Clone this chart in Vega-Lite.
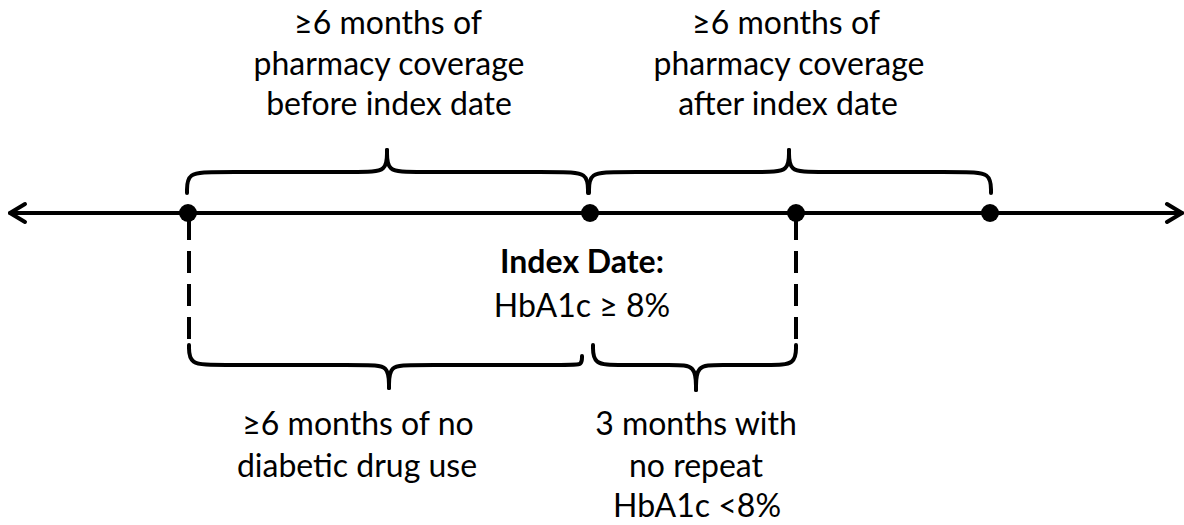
{
  "$schema": "https://vega.github.io/schema/vega-lite/v6.json",
  "width": 1184,
  "height": 525,
  "padding": 0,
  "autosize": {"type": "fit", "contains": "padding"},
  "background": "white",
  "config": {"view": {"stroke": null}},
  "datasets": {
    "braces": [
      {"p": "T1L", "i": 0, "x": 187, "y": 193}, {"p": "T1L", "i": 1, "x": 187, "y": 172}, {"p": "T1L", "i": 2, "x": 215, "y": 172}, {"p": "T1L", "i": 3, "x": 363, "y": 172}, {"p": "T1L", "i": 4, "x": 387, "y": 172}, {"p": "T1L", "i": 5, "x": 387, "y": 150},
      {"p": "T1R", "i": 0, "x": 387, "y": 150}, {"p": "T1R", "i": 1, "x": 387, "y": 172}, {"p": "T1R", "i": 2, "x": 411, "y": 172}, {"p": "T1R", "i": 3, "x": 560, "y": 172}, {"p": "T1R", "i": 4, "x": 588, "y": 172}, {"p": "T1R", "i": 5, "x": 588, "y": 193},
      {"p": "T2L", "i": 0, "x": 589, "y": 193}, {"p": "T2L", "i": 1, "x": 589, "y": 172}, {"p": "T2L", "i": 2, "x": 617, "y": 172}, {"p": "T2L", "i": 3, "x": 765, "y": 172}, {"p": "T2L", "i": 4, "x": 789, "y": 172}, {"p": "T2L", "i": 5, "x": 789, "y": 150},
      {"p": "T2R", "i": 0, "x": 789, "y": 150}, {"p": "T2R", "i": 1, "x": 789, "y": 172}, {"p": "T2R", "i": 2, "x": 813, "y": 172}, {"p": "T2R", "i": 3, "x": 963, "y": 172}, {"p": "T2R", "i": 4, "x": 991, "y": 172}, {"p": "T2R", "i": 5, "x": 991, "y": 193},
      {"p": "B1L", "i": 0, "x": 189, "y": 345}, {"p": "B1L", "i": 1, "x": 189, "y": 365}, {"p": "B1L", "i": 2, "x": 217, "y": 365}, {"p": "B1L", "i": 3, "x": 367, "y": 365}, {"p": "B1L", "i": 4, "x": 389, "y": 365}, {"p": "B1L", "i": 5, "x": 389, "y": 388},
      {"p": "B1R", "i": 0, "x": 389, "y": 388}, {"p": "B1R", "i": 1, "x": 389, "y": 365}, {"p": "B1R", "i": 2, "x": 411, "y": 365}, {"p": "B1R", "i": 3, "x": 572, "y": 365}, {"p": "B1R", "i": 4, "x": 582, "y": 365}, {"p": "B1R", "i": 5, "x": 582, "y": 356},
      {"p": "B2L", "i": 0, "x": 593, "y": 345}, {"p": "B2L", "i": 1, "x": 593, "y": 365}, {"p": "B2L", "i": 2, "x": 619, "y": 365}, {"p": "B2L", "i": 3, "x": 674, "y": 365}, {"p": "B2L", "i": 4, "x": 696, "y": 365}, {"p": "B2L", "i": 5, "x": 696, "y": 390},
      {"p": "B2R", "i": 0, "x": 696, "y": 390}, {"p": "B2R", "i": 1, "x": 696, "y": 365}, {"p": "B2R", "i": 2, "x": 718, "y": 365}, {"p": "B2R", "i": 3, "x": 770, "y": 365}, {"p": "B2R", "i": 4, "x": 796, "y": 365}, {"p": "B2R", "i": 5, "x": 796, "y": 345}
    ],
    "axisline": [
      {"p": "M", "i": 0, "x": 10, "y": 213}, {"p": "M", "i": 1, "x": 1182, "y": 213},
      {"p": "AL", "i": 0, "x": 25, "y": 204}, {"p": "AL", "i": 1, "x": 10, "y": 213}, {"p": "AL", "i": 2, "x": 25, "y": 222},
      {"p": "AR", "i": 0, "x": 1167, "y": 204}, {"p": "AR", "i": 1, "x": 1182, "y": 213}, {"p": "AR", "i": 2, "x": 1167, "y": 222}
    ],
    "dashes": [
      {"x": 189, "y": 218, "y2": 345},
      {"x": 796, "y": 218, "y2": 345}
    ],
    "dots": [
      {"x": 188, "y": 213}, {"x": 590, "y": 213}, {"x": 796, "y": 213}, {"x": 990, "y": 213}
    ],
    "labels": [
      {"t": "≥6 months of", "x": 388, "y": 34},
      {"t": "pharmacy coverage", "x": 389, "y": 75},
      {"t": "before index date", "x": 389, "y": 115},
      {"t": "≥6 months of", "x": 786, "y": 34},
      {"t": "pharmacy coverage", "x": 789, "y": 75},
      {"t": "after index date", "x": 788, "y": 115},
      {"t": "HbA1c ≥ 8%", "x": 582, "y": 317},
      {"t": "≥6 months of no", "x": 358, "y": 435},
      {"t": "diabetic drug use", "x": 357, "y": 477},
      {"t": "3 months with", "x": 696, "y": 435},
      {"t": "no repeat", "x": 696, "y": 477},
      {"t": "HbA1c <8%", "x": 697, "y": 517}
    ],
    "boldlabels": [
      {"t": "Index Date:", "x": 582, "y": 273}
    ]
  },
  "encoding": {
    "x": {"field": "x", "type": "quantitative", "scale": {"domain": [0, 1184], "nice": false, "zero": false}, "axis": null},
    "y": {"field": "y", "type": "quantitative", "scale": {"domain": [0, 525], "nice": false, "zero": false, "reverse": true}, "axis": null}
  },
  "layer": [
    {
      "data": {"name": "dashes"},
      "mark": {"type": "rule", "color": "black", "strokeWidth": 4, "strokeDash": [22, 11]},
      "encoding": {"y2": {"field": "y2"}}
    },
    {
      "data": {"name": "braces"},
      "mark": {"type": "line", "interpolate": "basis", "color": "black", "strokeWidth": 4, "strokeCap": "round", "strokeJoin": "round"},
      "encoding": {"detail": {"field": "p"}, "order": {"field": "i", "type": "quantitative"}}
    },
    {
      "data": {"name": "axisline"},
      "mark": {"type": "line", "color": "black", "strokeWidth": 4, "strokeCap": "round", "strokeJoin": "round"},
      "encoding": {"detail": {"field": "p"}, "order": {"field": "i", "type": "quantitative"}}
    },
    {
      "data": {"name": "dots"},
      "mark": {"type": "point", "shape": "circle", "filled": true, "color": "black", "opacity": 1, "size": 320}
    },
    {
      "data": {"name": "labels"},
      "mark": {"type": "text", "font": "Lato", "fontSize": 32, "color": "black", "align": "center", "baseline": "alphabetic"},
      "encoding": {"text": {"field": "t"}}
    },
    {
      "data": {"name": "boldlabels"},
      "mark": {"type": "text", "font": "Lato", "fontSize": 32, "fontWeight": "bold", "color": "black", "align": "center", "baseline": "alphabetic"},
      "encoding": {"text": {"field": "t"}}
    }
  ]
}
